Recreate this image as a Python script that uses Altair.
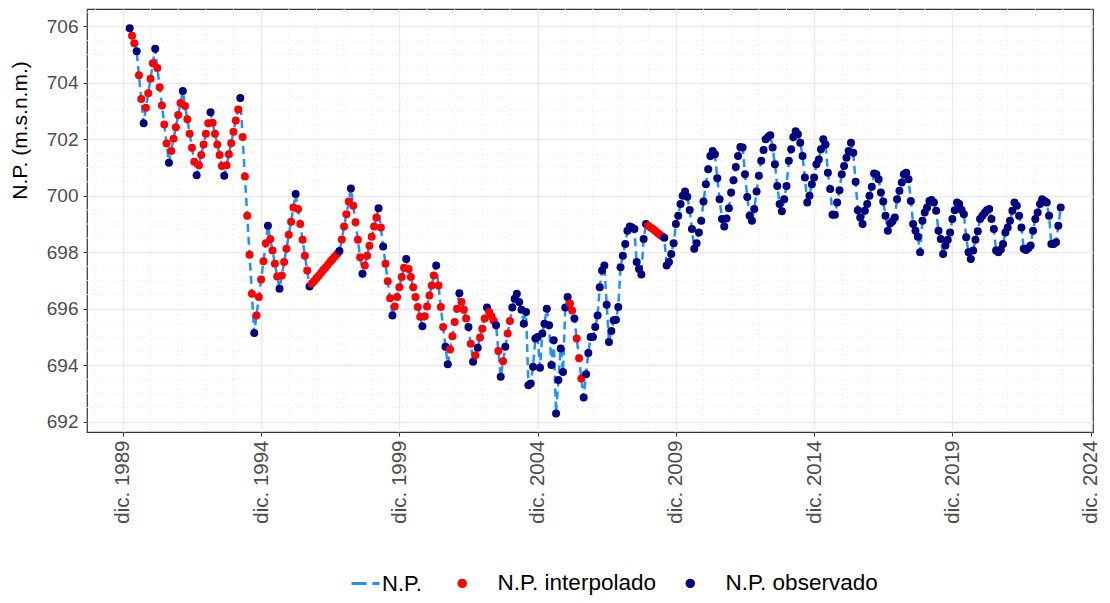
import altair as alt
import pandas as pd

# ---------------- data (monthly series) ----------------
START = "1990-03-01"

NP_VALUES = [
    705.94, 705.67, 705.41, 705.12, 704.27, 703.43, 702.57, 703.12, 703.63, 704.15, 704.70, 705.21,
    704.53, 703.85, 703.20, 702.53, 701.85, 701.17, 701.59, 702.02, 702.43, 702.86, 703.29, 703.71,
    703.18, 702.71, 702.20, 701.70, 701.21, 700.73, 701.08, 701.45, 701.82, 702.20, 702.57, 702.96,
    702.59, 702.20, 701.82, 701.45, 701.06, 700.71, 701.08, 701.47, 701.86, 702.27, 702.67, 703.06,
    703.47, 702.08, 700.68, 699.29, 697.91, 696.53, 695.14, 695.76, 696.41, 697.03, 697.68, 698.32,
    698.94, 698.47, 698.06, 697.59, 697.14, 696.71, 697.18, 697.65, 698.12, 698.62, 699.08, 699.59,
    700.06, 699.53, 699.00, 698.44, 697.88, 697.35, 696.79, 696.89, 696.98, 697.08, 697.17, 697.27,
    697.37, 697.46, 697.56, 697.66, 697.75, 697.85, 697.94, 698.04, 698.45, 698.91, 699.35, 699.80,
    700.26, 699.65, 699.06, 698.44, 697.82, 697.24, 697.53, 697.88, 698.23, 698.55, 698.91, 699.23,
    699.56, 698.88, 698.20, 697.59, 696.97, 696.37, 695.76, 696.08, 696.41, 696.76, 697.12, 697.45,
    697.76, 697.41, 697.12, 696.76, 696.41, 696.06, 695.71, 695.38, 695.73, 696.08, 696.47, 696.82,
    697.18, 697.53, 696.82, 696.06, 695.35, 694.65, 694.03, 694.55, 695.02, 695.53, 696.00, 696.55,
    696.24, 695.96, 695.65, 695.35, 694.76, 694.12, 694.35, 694.62, 694.98, 695.29, 695.65, 696.04,
    695.88, 695.73, 695.57, 695.41, 694.50, 693.59, 694.14, 694.65, 695.12, 695.56, 696.04, 696.35,
    696.53, 696.24, 695.96, 695.47, 695.88, 693.29, 693.35, 693.94, 694.94, 695.00, 693.91, 695.12,
    695.47, 696.00, 695.41, 694.00, 694.88, 692.29, 693.47, 694.59, 693.76, 696.04, 696.41, 696.18,
    695.94, 695.65, 694.94, 694.24, 693.53, 692.85, 693.68, 694.43, 695.00, 695.00, 695.35, 695.76,
    696.76, 697.35, 697.53, 696.14, 694.82, 695.21, 695.59, 695.61, 696.06, 697.47, 697.88, 698.29,
    698.76, 698.91, 698.88, 698.82, 697.65, 697.41, 697.21, 698.47, 699.00, 698.94, 698.88, 698.82,
    698.76, 698.69, 698.63, 698.57, 698.51, 697.53, 697.65, 697.94, 698.32, 699.00, 699.29, 699.71,
    700.00, 700.15, 699.97, 699.50, 698.82, 698.12, 698.32, 698.70, 699.12, 699.80, 700.41, 700.94,
    701.41, 701.59, 701.47, 700.62, 699.88, 699.18, 698.91, 699.20, 699.56, 700.12, 700.55, 701.02,
    701.41, 701.73, 701.71, 700.76, 699.96, 699.29, 699.12, 699.53, 700.15, 700.71, 701.24, 701.62,
    702.00, 702.08, 702.15, 701.71, 701.12, 700.35, 699.71, 699.45, 699.88, 700.35, 701.24, 701.65,
    702.08, 702.29, 702.18, 701.88, 701.41, 700.65, 699.76, 700.00, 700.41, 700.65, 701.12, 701.29,
    701.65, 702.00, 701.82, 700.82, 700.24, 699.33, 699.33, 699.76, 700.20, 700.76, 701.06, 701.35,
    701.59, 701.88, 701.53, 700.50, 699.49, 699.23, 699.00, 699.47, 699.71, 700.00, 700.32, 700.79,
    700.76, 700.59, 700.12, 699.80, 699.29, 698.76, 699.02, 699.10, 699.23, 699.88, 700.18, 700.47,
    700.76, 700.82, 700.59, 699.82, 699.00, 698.76, 698.55, 698.00, 699.12, 699.41, 699.59, 699.82,
    699.85, 699.76, 699.47, 698.76, 698.47, 697.94, 698.24, 698.44, 698.70, 699.18, 699.49, 699.76,
    699.71, 699.50, 699.35, 698.53, 698.00, 697.76, 698.06, 698.44, 698.74, 699.18, 699.29, 699.40,
    699.49, 699.53, 699.18, 698.82, 698.06, 698.00, 698.10, 698.29, 698.70, 698.88, 699.12, 699.47,
    699.76, 699.65, 699.29, 698.88, 698.12, 698.08, 698.15, 698.24, 698.76, 699.18, 699.41, 699.71,
    699.88, 699.82, 699.76, 699.29, 698.29, 698.29, 698.35, 698.94, 699.59,
]

# month indices (inclusive ranges) whose value is interpolated (red points)
INTERP_RANGES = [
    (1, 2), (4, 5), (7, 10), (12, 16), (18, 22), (24, 28), (30, 34), (36, 40),
    (42, 47), (49, 53), (55, 59), (61, 64), (66, 71), (73, 77), (79, 90), (92, 95),
    (97, 100), (102, 107), (109, 109), (111, 113), (115, 119), (121, 126), (128, 132),
    (134, 136), (139, 142), (144, 146), (148, 148), (150, 150), (152, 154), (156, 158),
    (160, 160), (162, 162), (164, 165), (191, 192), (194, 196), (225, 231),
]

SERIES_LINE = "N.P."
CAT_INTERP = "N.P. interpolado"
CAT_OBS = "N.P. observado"

Y_TICKS = [692, 694, 696, 698, 700, 702, 704, 706]
Y_MINOR = [692.5, 693, 693.5, 694.5, 695, 695.5, 696.5, 697, 697.5, 698.5, 699, 699.5,
           700.5, 701, 701.5, 702.5, 703, 703.5, 704.5, 705, 705.5, 706.5]
X_TICK_YEARS = [1989, 1994, 1999, 2004, 2009, 2014, 2019, 2024]
X_MINOR_YEARS = [1988, 1990, 1991, 1992, 1993, 1995, 1996, 1997, 1998, 2000, 2001, 2002,
                 2003, 2005, 2006, 2007, 2008, 2010, 2011, 2012, 2013, 2015, 2016, 2017,
                 2018, 2020, 2021, 2022, 2023]

# ---------------- tables ----------------
fechas = pd.date_range(START, periods=len(NP_VALUES), freq="MS").strftime("%Y-%m-%d")
interp_idx = set()
for a, b in INTERP_RANGES:
    interp_idx.update(range(a, b + 1))
tipos = [CAT_INTERP if i in interp_idx else CAT_OBS for i in range(len(NP_VALUES))]

df = pd.DataFrame({"fecha": fechas, "np": NP_VALUES, "tipo": tipos, "serie": SERIES_LINE})
df_xminor = pd.DataFrame({"fecha": [f"{y}-12-01" for y in X_MINOR_YEARS]})
df_yminor = pd.DataFrame({"np": Y_MINOR})

FONT = "Liberation Sans"

x_scale = alt.Scale(type="utc",
                    domain=[alt.DateTime(year=1988, month=8, date=14, utc=True),
                            alt.DateTime(year=2025, month=1, date=1, utc=True)])
y_scale = alt.Scale(domain=[691.63, 706.62], nice=False, zero=False)

x_axis = alt.Axis(
    title=None,
    values=[alt.DateTime(year=y, month=12, date=1, utc=True) for y in X_TICK_YEARS],
    labelExpr="'dic. ' + utcFormat(datum.value, '%Y')",
    labelAngle=270, labelFontSize=20.5, labelPadding=4,
)
y_axis = alt.Axis(
    title="N.P. (m.s.n.m.)", values=Y_TICKS, format="d",
    labelFontSize=19, labelPadding=5, titleFontSize=21, titlePadding=16, titleY=121,
)

minor_x = alt.Chart(df_xminor).mark_rule(color="#E6E6E6", strokeDash=[1, 4], strokeWidth=1).encode(
    x=alt.X("fecha:T", scale=x_scale, axis=x_axis)
)
minor_y = alt.Chart(df_yminor).mark_rule(color="#E6E6E6", strokeDash=[1, 4], strokeWidth=1).encode(
    y=alt.Y("np:Q", scale=y_scale, axis=y_axis)
)

line = alt.Chart(df).mark_line(strokeDash=[8, 5], strokeWidth=2.5).encode(
    x=alt.X("fecha:T", scale=x_scale, axis=x_axis),
    y=alt.Y("np:Q", scale=y_scale, axis=y_axis),
    color=alt.Color("serie:N",
                    scale=alt.Scale(domain=[SERIES_LINE], range=["#1E90FF"]),
                    legend=alt.Legend(title=None, orient="none", legendX=263, legendY=559,
                                      symbolType="stroke", symbolSize=784,
                                      symbolDash=[15, 6], symbolStrokeWidth=3, labelOffset=1,
                                      labelFontSize=22, labelFont=FONT, labelColor="#000000")),
)

points = alt.Chart(df).mark_circle(size=64, opacity=1).encode(
    x=alt.X("fecha:T", scale=x_scale, axis=x_axis),
    y=alt.Y("np:Q", scale=y_scale, axis=y_axis),
    fill=alt.Fill("tipo:N",
                  scale=alt.Scale(domain=[CAT_INTERP, CAT_OBS], range=["#FF0000", "#000080"]),
                  legend=alt.Legend(title=None, orient="none", legendX=364, legendY=563,
                                    direction="horizontal", symbolType="circle", symbolSize=90,
                                    labelOffset=24, columnPadding=23, labelFontSize=22.5,
                                    labelFont=FONT, labelColor="#000000")),
)

chart = alt.layer(minor_x, minor_y, line, points).properties(
    width=1006, height=423,
    autosize=alt.AutoSizeParams(type="none"),
    padding={"left": 79, "top": 1, "right": 9, "bottom": 163},
).configure_view(
    stroke="#333333", strokeWidth=1.2,
).configure_axis(
    domain=False, grid=True, gridColor="#EBEBEB", gridWidth=1.5,
    ticks=True, tickColor="#333333", tickSize=4, tickWidth=1,
    labelColor="#4D4D4D", labelFont=FONT, titleFont=FONT,
    titleColor="#000000", titleFontWeight="normal",
)

chart.save("out.html", embed_options={"renderer": "svg", "actions": False})
